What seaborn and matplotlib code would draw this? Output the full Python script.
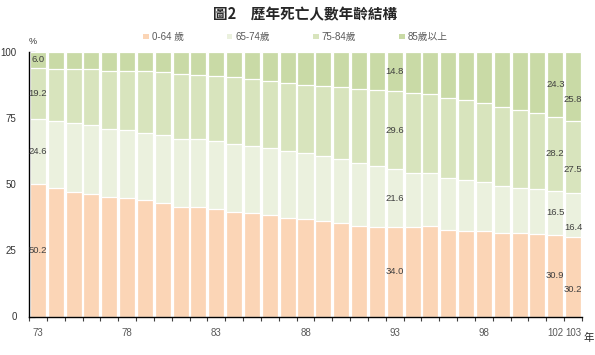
import matplotlib
matplotlib.use("Agg")
import matplotlib.pyplot as plt
from matplotlib.patches import Patch
import numpy as np
import pandas as pd
import seaborn as sns

# 民國年份
years = list(range(73, 104))
tick_years = [73, 78, 83, 88, 93, 98, 102, 103]
label_years = [73, 93, 102, 103]

series_names = ["0-64 歲", "65-74歲", "75-84歲", "85歲以上"]
colors = ["#FBD5B6", "#EBF1DE", "#D8E4BD", "#C9DAA6"]

# percentage by age group
age_0_64 = [50.2, 48.4, 47.1, 46.2, 45.2, 44.8, 44.1, 43.1, 41.5, 41.4, 40.7,
            39.6, 39.0, 38.3, 37.3, 36.9, 36.2, 35.5, 34.3, 33.9, 34.0, 33.7,
            34.1, 32.8, 32.2, 32.2, 31.5, 31.4, 31.2, 30.9, 30.2]
age_65_74 = [24.6, 25.6, 25.9, 26.1, 25.6, 25.6, 25.4, 25.5, 25.7, 25.6, 25.6,
             25.7, 25.4, 25.5, 25.2, 24.8, 24.4, 24.2, 23.6, 22.9, 21.6, 20.7,
             20.3, 19.7, 19.3, 18.8, 17.8, 17.3, 16.9, 16.5, 16.4]
age_75_84 = [19.2, 19.7, 20.4, 21.1, 22.2, 22.4, 23.3, 23.8, 24.6, 24.4, 24.7,
             25.2, 25.5, 25.3, 25.9, 25.9, 26.5, 27.2, 28.3, 28.8, 29.6, 30.2,
             29.8, 30.2, 30.2, 29.8, 30.0, 29.3, 28.9, 28.2, 27.5]
age_85_up = [6.0, 6.3, 6.6, 6.6, 7.0, 7.2, 7.2, 7.6, 8.2, 8.6, 9.0,
             9.5, 10.1, 10.9, 11.6, 12.4, 12.9, 13.1, 13.8, 14.4, 14.8, 15.4,
             15.8, 17.3, 18.3, 19.2, 20.7, 22.0, 23.0, 24.3, 25.8]

sns.set_style("white")
plt.rcParams["font.family"] = ["Liberation Sans", "Noto Sans CJK TC", "DejaVu Sans"]

df = pd.DataFrame({"year": [str(y) for y in years],
                   "a": age_0_64, "b": age_65_74, "c": age_75_84, "d": age_85_up})
parts = ["a", "b", "c", "d"]
cum = df[parts].cumsum(axis=1)

fig = plt.figure(figsize=(5.95, 3.55), dpi=100)
ax = fig.add_axes([29 / 595, 1 - 316.5 / 355, 553 / 595, 264.5 / 355])

order = df["year"].tolist()
# draw cumulative totals from the top down so they look stacked
for k in range(3, -1, -1):
    sns.barplot(x=df["year"], y=cum[parts[k]], order=order, color=colors[k],
                width=0.9, edgecolor="white", linewidth=0.9, saturation=1,
                ax=ax)

ax.set_ylim(0, 100)
ax.set_xlim(-0.5, len(years) - 0.5)
ax.set_xlabel("")
ax.set_ylabel("")

# data labels
shift = {103: -13}
for y in label_years:
    i = years.index(y)
    lo = 0.0
    for k, p in enumerate(parts):
        v = df.loc[i, p]
        ax.annotate(f"{v:.1f}", (i, lo + v / 2), xytext=(0, shift.get(y, 0)),
                    textcoords="offset pixels", ha="center", va="center",
                    fontsize=6.8, color="#404040")
        lo += v

# axes styling
ax.set_yticks([0, 25, 50, 75, 100])
ax.set_yticklabels(["0", "25", "50", "75", "100"])
ax.tick_params(axis="y", direction="in", length=4, width=0.8, left=True,
               labelsize=7, labelcolor="#333333", pad=9)
ax.set_xticks([years.index(y) for y in tick_years])
ax.set_xticklabels([str(y) for y in tick_years])
ax.set_xticks(np.arange(-0.5, len(years), 1), minor=True)
ax.tick_params(axis="x", which="major", length=0, labelsize=7,
               labelcolor="#595959", pad=8)
ax.tick_params(axis="x", which="minor", direction="out", length=3, width=0.8,
               bottom=True, color="#404040")
for s in ["top", "right"]:
    ax.spines[s].set_visible(False)
for s in ["left", "bottom"]:
    ax.spines[s].set_color("black")
    ax.spines[s].set_linewidth(1.0)
ax.grid(False)

fig.text(0.513, 1 - 14 / 355, "圖2　歷年死亡人數年齡結構", ha="center", va="center",
         fontsize=10.5, fontweight="bold", family=["Noto Sans CJK TC", "DejaVu Sans"])
fig.text(33 / 595, 1 - 41 / 355, "%", ha="center", va="center", fontsize=6.5,
         color="#333333")
fig.text(589 / 595, 1 - 338 / 355, "年", ha="center", va="center", fontsize=7.5,
         family=["Noto Sans CJK TC", "DejaVu Sans"])

handles = [Patch(facecolor=c, edgecolor="none") for c in colors]
fig.legend(handles, series_names, loc="center", bbox_to_anchor=(0.497, 1 - 37 / 355),
           ncol=4, frameon=False, fontsize=7, labelcolor="#595959",
           handlelength=0.55, handleheight=0.55, handletextpad=0.35,
           columnspacing=4.4)

fig.savefig("out.png", dpi=100)
